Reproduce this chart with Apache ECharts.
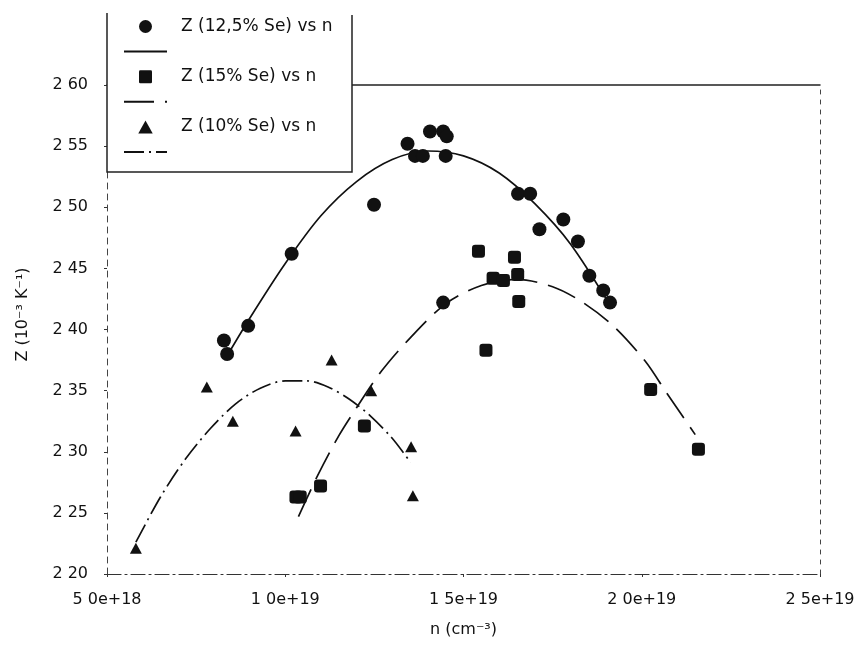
<!DOCTYPE html>
<html>
<head>
<meta charset="utf-8">
<script src="https://cdn.jsdelivr.net/npm/echarts@6/dist/echarts.min.js"></script>
<style>html,body{margin:0;padding:0;background:#fff}#c{width:858px;height:652px}</style>
</head>
<body>
<div id="c"></div>
<script>
// n in units of 1e18 cm^-3, Z in 10^-3 K^-1
const xTickLabels = ['5 0e+18', '1 0e+19', '1 5e+19', '2 0e+19', '2 5e+19'];
const yTickLabels = ['2 20', '2 25', '2 30', '2 35', '2 40', '2 45', '2 50', '2 55', '2 60'];

const seriesNames = ['Z (12,5% Se) vs n', 'Z (15% Se) vs n', 'Z (10% Se) vs n'];

const pts125 = [
  [8.28, 2.391], [8.37, 2.380], [8.96, 2.403], [10.18, 2.462], [12.49, 2.502],
  [13.43, 2.552], [13.64, 2.542], [13.86, 2.542], [14.06, 2.562], [14.43, 2.562],
  [14.53, 2.558], [14.50, 2.542], [14.43, 2.422], [16.53, 2.511], [16.87, 2.511],
  [17.13, 2.482], [17.80, 2.490], [18.21, 2.472], [18.53, 2.444], [18.92, 2.432],
  [19.11, 2.422]
];
const pts15 = [
  [10.30, 2.263], [10.42, 2.263], [10.99, 2.272], [12.22, 2.321], [15.42, 2.464],
  [15.63, 2.383], [15.83, 2.442], [16.12, 2.440], [16.43, 2.459], [16.52, 2.445],
  [16.55, 2.423], [20.25, 2.351], [21.59, 2.302]
];
const pts10 = [
  [5.81, 2.221], [7.80, 2.353], [8.53, 2.325], [10.29, 2.317], [11.30, 2.375],
  [12.41, 2.350], [13.53, 2.304], [13.58, 2.264]
];

// fitted curves
const fit125 = [
  [8.30, 2.375], [9.00, 2.409], [10.00, 2.454], [11.00, 2.493], [12.00, 2.521],
  [13.00, 2.539], [14.00, 2.546], [15.00, 2.542], [16.00, 2.528], [17.00, 2.503],
  [18.00, 2.470], [19.15, 2.418]
];
const fit15 = [
  [10.37, 2.247], [10.90, 2.280], [11.50, 2.313], [12.00, 2.336], [12.70, 2.366],
  [13.50, 2.393], [14.50, 2.421], [15.50, 2.436], [16.50, 2.441], [17.50, 2.435],
  [18.30, 2.423], [19.20, 2.403], [20.10, 2.374], [20.70, 2.348], [21.50, 2.314]
];
const fit10 = [
  [5.81, 2.226], [6.50, 2.263], [7.20, 2.294], [7.90, 2.319], [8.60, 2.339],
  [9.30, 2.352], [10.00, 2.358], [10.60, 2.358], [11.20, 2.353], [11.80, 2.343],
  [12.40, 2.329], [13.00, 2.311], [13.52, 2.291]
];

const chart = echarts.init(document.getElementById('c'), null, {renderer: 'canvas'});
const FONT = 'DejaVu Sans';
const INK = '#111';

function fitSeries(name, data, dash) {
  return {
    name: name, type: 'line', data: data, smooth: 0.3, symbol: 'none',
    lineStyle: {color: INK, width: 1.7, type: dash},
    itemStyle: {color: INK}, z: 2, silent: true
  };
}

const hiddenSym = {opacity: 0};

chart.setOption({
  animation: false,
  backgroundColor: '#fff',
  grid: {left: 107, right: 38, top: 85, bottom: 78},
  graphic: [
    {type: 'rect', z: 3, shape: {x: 107, y: 13, width: 245, height: 159}, style: {fill: '#fff'}},
    {type: 'polyline', z: 3, shape: {points: [[107, 13], [107, 172], [352, 172], [352, 15]]},
      style: {stroke: '#222', lineWidth: 1.5, fill: null}}
  ],
  legend: {
    orient: 'vertical', left: 123, top: 18, itemWidth: 43, itemHeight: 13, itemGap: 11.4,
    z: 5, padding: 0,
    textStyle: {fontFamily: FONT, fontSize: 17, color: INK, lineHeight: 13, padding: [0, 0, 0, 9]},
    formatter: function (n) { return n.indexOf('fit') === 0 ? '' : n; },
    data: [
      {name: seriesNames[0], icon: 'circle'},
      {name: 'fit1', itemStyle: hiddenSym},
      {name: seriesNames[1], icon: 'path://M1,0H9Q10,0 10,1V9Q10,10 9,10H1Q0,10 0,9V1Q0,0 1,0Z'},
      {name: 'fit2', itemStyle: hiddenSym},
      {name: seriesNames[2], icon: 'path://M5,0L10,9L0,9Z'},
      {name: 'fit3', itemStyle: hiddenSym}
    ]
  },
  xAxis: [{
    type: 'value', min: 5, max: 25, interval: 5,
    name: 'n (cm⁻³)', nameLocation: 'middle', nameGap: 48,
    nameTextStyle: {fontFamily: FONT, fontSize: 16, color: INK},
    axisLine: {lineStyle: {color: '#333', width: 1.2, type: [14, 4, 2, 4]}},
    axisTick: {show: true, length: 3, lineStyle: {color: '#333'}},
    splitLine: {show: false},
    axisLabel: {fontFamily: FONT, fontSize: 16, color: INK, margin: 18,
      formatter: function (v) { return xTickLabels[Math.round((v - 5) / 5)]; }}
  }, {
    type: 'value', position: 'top', min: 5, max: 25,
    axisLine: {lineStyle: {color: '#222', width: 1.5}},
    axisTick: {show: false}, axisLabel: {show: false}, splitLine: {show: false}
  }],
  yAxis: [{
    type: 'value', min: 2.2, max: 2.6, interval: 0.05,
    name: 'Z (10⁻³ K⁻¹)', nameLocation: 'middle', nameGap: 76,
    nameTextStyle: {fontFamily: FONT, fontSize: 16, color: INK, padding: [0, 0, 0, 30]},
    axisLine: {show: true, lineStyle: {color: '#444', width: 1, type: [6, 5]}},
    axisTick: {show: true, length: 3, lineStyle: {color: '#333'}},
    splitLine: {show: false},
    axisLabel: {fontFamily: FONT, fontSize: 16, color: INK, margin: 19,
      formatter: function (v) { return yTickLabels[Math.round((v - 2.2) / 0.05)]; }}
  }, {
    type: 'value', position: 'right', min: 2.2, max: 2.6,
    axisLine: {show: true, lineStyle: {color: '#444', width: 1, type: [4, 6]}},
    axisTick: {show: false}, axisLabel: {show: false}, splitLine: {show: false}
  }],
  series: [
    {name: seriesNames[0], type: 'scatter', data: pts125, symbol: 'circle', symbolSize: 14,
      itemStyle: {color: INK, opacity: 1}, z: 3},
    fitSeries('fit1', fit125, 'solid'),
    {name: seriesNames[1], type: 'scatter', data: pts15, symbol: 'roundRect', symbolSize: 13,
      itemStyle: {color: INK, opacity: 1}, z: 3},
    fitSeries('fit2', fit15, [30, 11]),
    {name: seriesNames[2], type: 'scatter', data: pts10, symbol: 'triangle', symbolSize: [12, 11],
      itemStyle: {color: INK, opacity: 1}, z: 3},
    fitSeries('fit3', fit10, [20, 5, 2, 5])
  ]
});
</script>
</body>
</html>
